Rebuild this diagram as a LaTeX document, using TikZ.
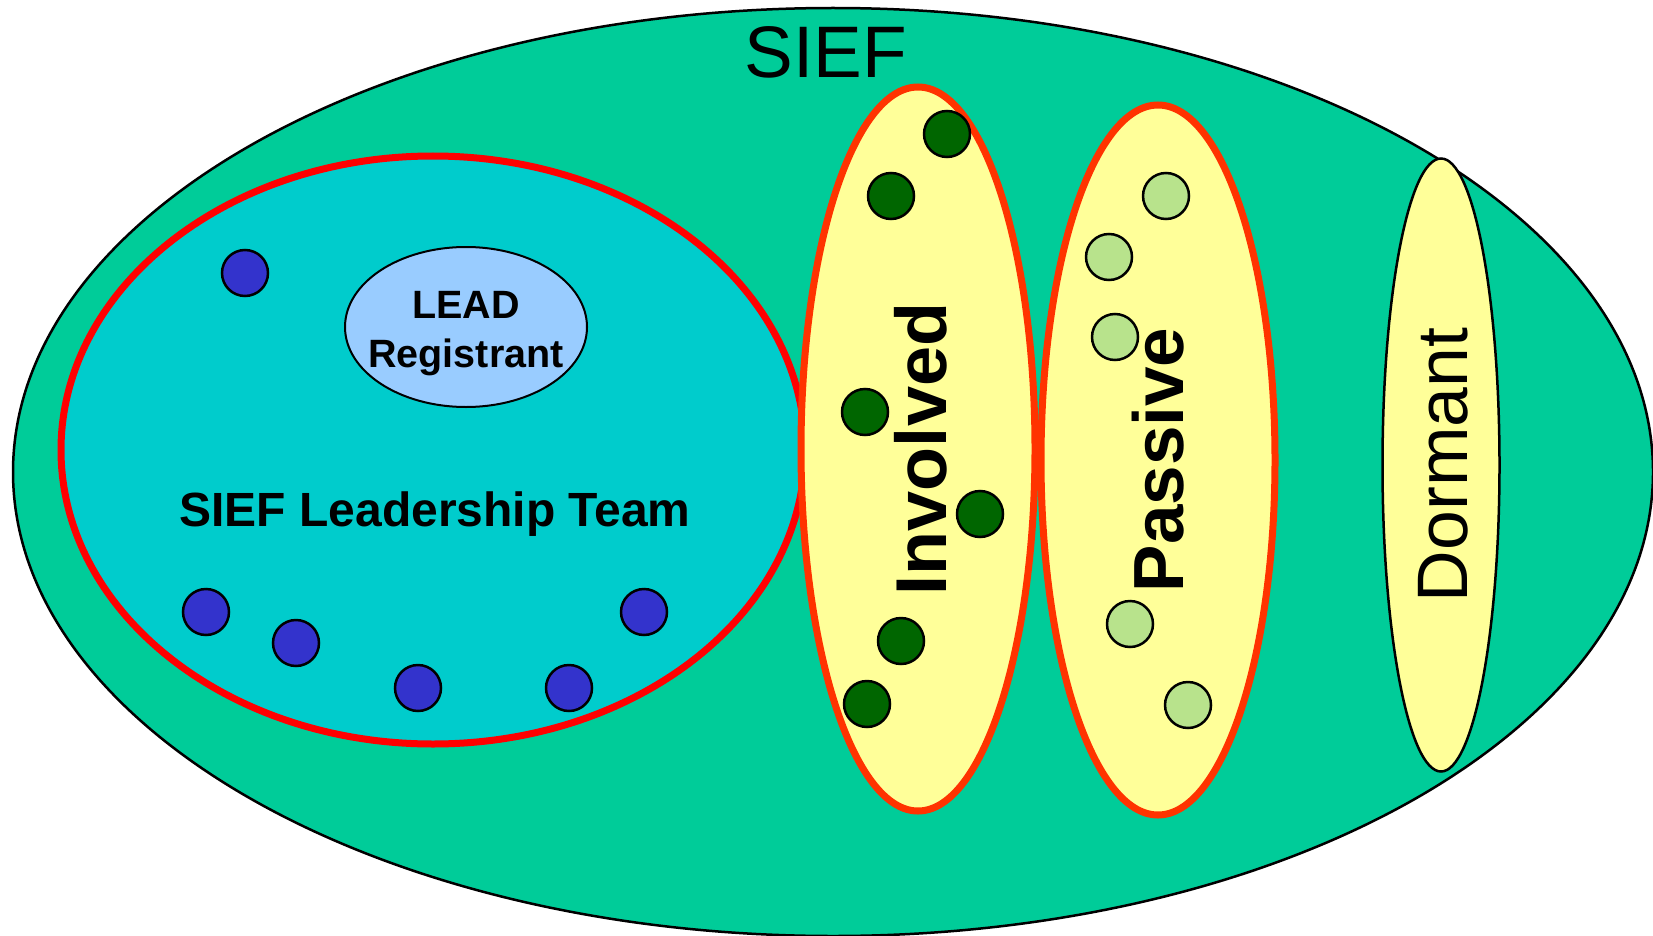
\documentclass[tikz,border=0pt]{standalone}
\usepackage{fontspec}
\setmainfont{Liberation Sans}
\usetikzlibrary{shapes.geometric}
\definecolor{siefgreen}{HTML}{00CC99}
\definecolor{leadteal}{HTML}{00CCCC}
\definecolor{leadblue}{HTML}{99CCFF}
\definecolor{paleyellow}{HTML}{FFFF99}
\definecolor{orangered}{HTML}{FF3300}
\definecolor{darkdot}{HTML}{006600}
\definecolor{lightdot}{HTML}{B8E38C}
\definecolor{bluedot}{HTML}{3333CC}
\tikzset{
  dot/.style={circle, draw=black, line width=2.5pt, minimum size=46pt, inner sep=0pt},
  involveddot/.style={dot, fill=darkdot},
  passivedot/.style={dot, fill=lightdot},
  leaddot/.style={dot, fill=bluedot},
  group/.style={ellipse, inner sep=0pt, fill=paleyellow, draw=orangered, line width=7pt},
  vlabel/.style={rotate=90, anchor=base, inner sep=0pt, font=\fontsize{72}{80}\selectfont\bfseries},
}
\begin{document}
\begin{tikzpicture}[x=1pt, y=-1pt]
\useasboundingbox (0,0) rectangle (1653,936);
\clip (0,0) rectangle (1653,936);
% SIEF outer ellipse
\node[ellipse, draw=black, line width=2.5pt, fill=siefgreen, minimum width=1640pt, minimum height=928pt, inner sep=0pt] (sief) at (833,472) {};
\node[anchor=base, inner sep=0pt, font=\fontsize{73}{80}\selectfont] (sieftitle) at (826,78) {SIEF};
% Leadership team
\node[ellipse, draw=red, line width=7pt, fill=leadteal, minimum width=744pt, minimum height=588pt, inner sep=0pt] (team) at (433,450) {};
\node[ellipse, draw=black, line width=2pt, fill=leadblue, minimum width=242pt, minimum height=160pt, inner sep=0pt] (lead) at (466,327) {};
\node[anchor=base, inner sep=0pt, font=\fontsize{39.5}{49}\selectfont\bfseries] (leadt1) at (466,318) {LEAD};
\node[anchor=base, inner sep=0pt, font=\fontsize{39.5}{49}\selectfont\bfseries] (leadt2) at (466,367) {Registrant};
\node[anchor=base, inner sep=0pt, font=\fontsize{48}{56}\selectfont\bfseries] (teamlabel) at (435,526) {SIEF Leadership Team};
% Involved, Passive, Dormant
\node[group, minimum width=234pt, minimum height=724pt] (involved) at (918,449) {};
\node[group, minimum width=234pt, minimum height=710pt] (passive) at (1158,460) {};
\node[ellipse, inner sep=0pt, fill=paleyellow, draw=black, line width=2.5pt, minimum width=117pt, minimum height=613pt] (dormant) at (1441,465) {};
% dots
\node[leaddot] (b1) at (245,273) {};
\node[leaddot] (b2) at (206,612) {};
\node[leaddot] (b3) at (296,643) {};
\node[leaddot] (b4) at (418,688) {};
\node[leaddot] (b5) at (569,688) {};
\node[leaddot] (b6) at (644,612) {};
\node[involveddot] (g1) at (947,134) {};
\node[involveddot] (g2) at (891,196) {};
\node[involveddot] (g3) at (865,412) {};
\node[involveddot] (g4) at (980,514) {};
\node[involveddot] (g5) at (901,641) {};
\node[involveddot] (g6) at (867,704) {};
\node[passivedot] (p1) at (1166,196) {};
\node[passivedot] (p2) at (1109,257) {};
\node[passivedot] (p3) at (1115,337) {};
\node[passivedot] (p4) at (1130,624) {};
\node[passivedot] (p5) at (1188,705) {};
% vertical labels
\node[vlabel] (involvedlabel) at (946,449) {Involved};
\node[vlabel, font=\fontsize{71}{80}\selectfont\bfseries] (passivelabel) at (1183,460) {Passive};
\node[vlabel, font=\fontsize{71.5}{80}\selectfont] (dormantlabel) at (1467,465) {Dormant};
\end{tikzpicture}
\end{document}
